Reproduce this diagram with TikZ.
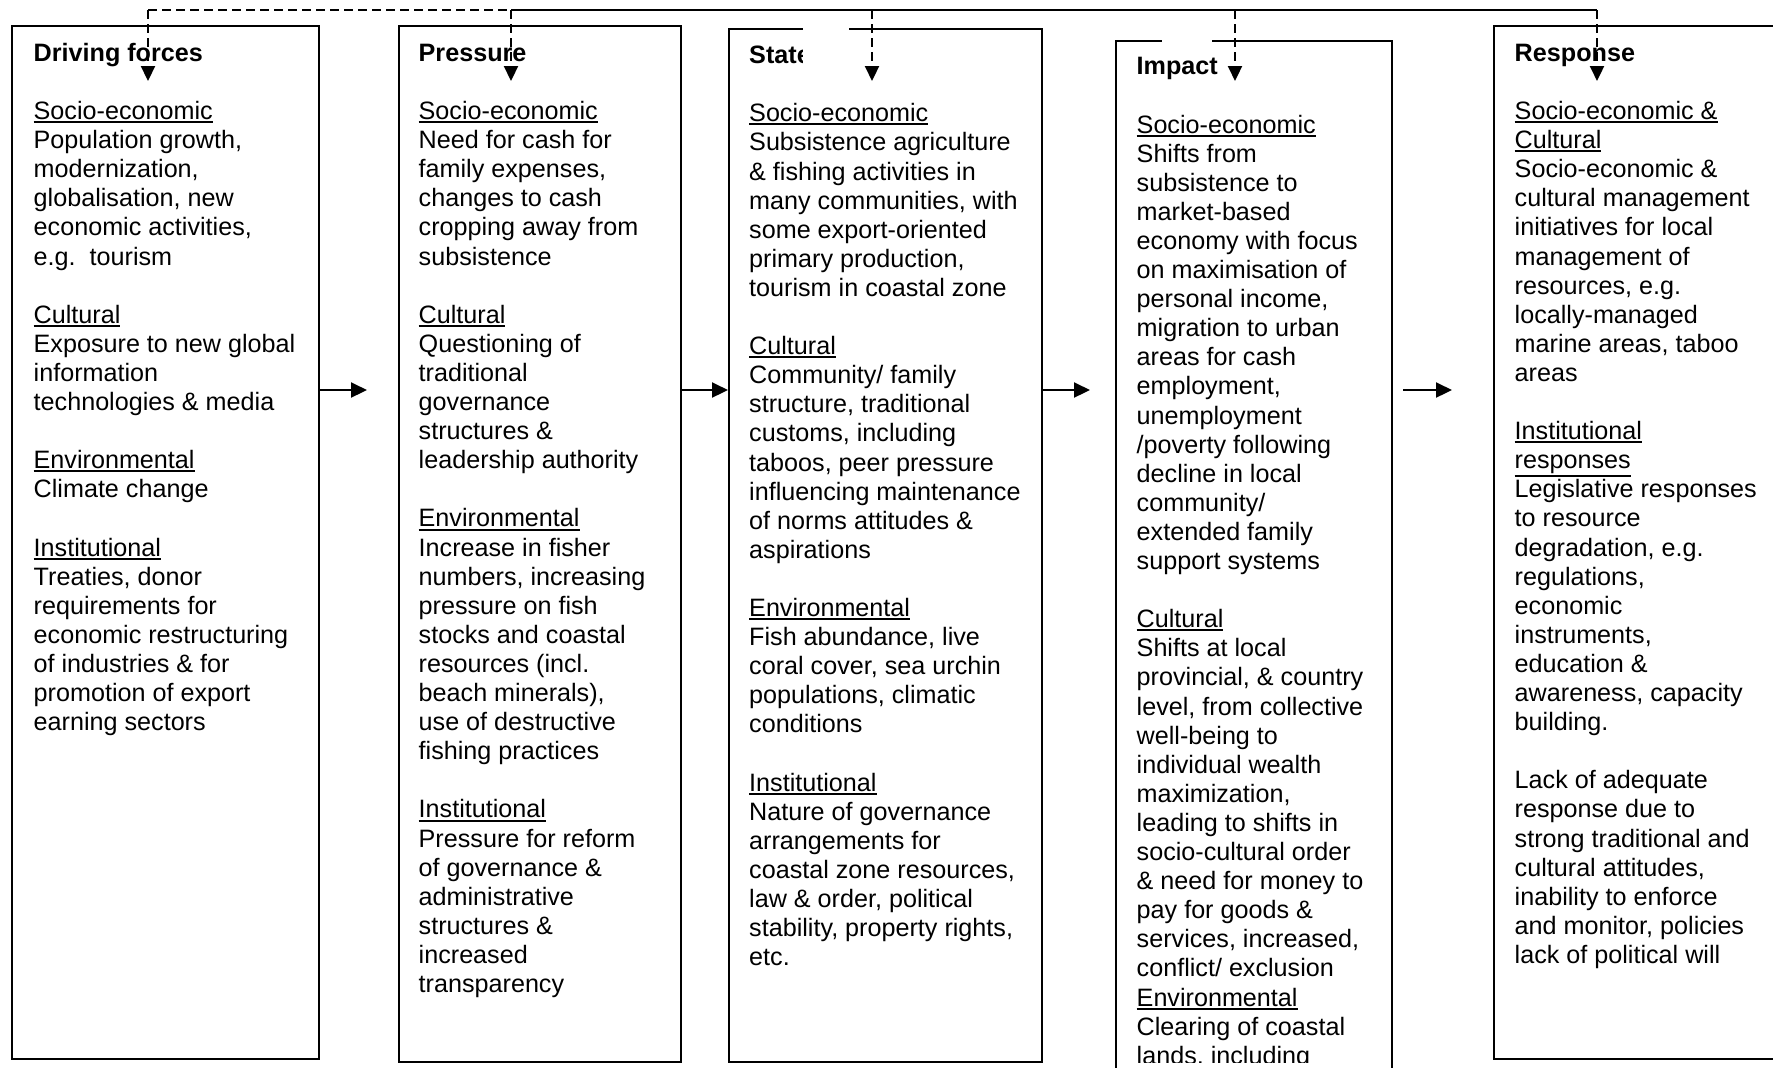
\documentclass[tikz,border=0pt]{standalone}
\usepackage{fontspec}
\setmainfont{Liberation Sans}
\usetikzlibrary{arrows.meta}
\tikzset{
  bx/.style={draw=black,line width=.6pt,inner sep=0pt,anchor=north west},
  txt/.style={font=\fontsize{7.16}{8.28}\selectfont,align=left,inner sep=0pt,anchor=north west},
  msk/.style={fill=white,draw=none},
  lnk/.style={draw=black,line width=.6pt},
  lnkd/.style={lnk,dash pattern=on .9mm off .5mm},
  fb/.style={-{Triangle[length=1.5mm,width=1.4mm]},line width=.6pt,dash pattern=on .9mm off .5mm},
  fw/.style={-{Triangle[length=1.6mm,width=1.5mm]},line width=.6pt},
}
% first line of every column starts with this strut, so the top is fixed
\newcommand{\tp}{\rule{0pt}{6pt}}
% underlined heading, rule just under the letters, no extra depth
\newcommand{\hd}[1]{\smash{\setbox0\hbox{#1}\dimen0=\dp0
  \ifdim\dimen0>0pt \advance\dimen0 by 0.4pt \else \dimen0=0.9pt \fi
  \rlap{\vrule width\wd0 height -\dimen0 depth \dimexpr\dimen0+0.55pt\relax}\box0}}

\begin{document}
\begin{tikzpicture}
\useasboundingbox (0,0) rectangle (17.73,-10.67);
\clip (0,0) rectangle (17.73,-10.67);
% ---------- the five boxes ----------
\node[bx,minimum width=3.07cm,minimum height=10.33cm] (drv) at (0.11,-0.25) {};
\node[bx,minimum width=2.82cm,minimum height=10.36cm] (prs) at (3.98,-0.25) {};
\node[bx,minimum width=3.13cm,minimum height=10.33cm] (sta) at (7.28,-0.28) {};
\node[bx,minimum width=2.76cm,minimum height=10.60cm] (imp) at (11.15,-0.40) {};
\node[bx,minimum width=3.20cm,minimum height=10.33cm] (rsp) at (14.93,-0.25) {};
% ---------- texts (top = baseline + 6pt) ----------
\node[txt] (drvT) at (0.33,-0.395) {\tp\textbf{Driving forces}\\[8.28pt]
  \hd{Socio-economic}\\
  Population growth,\\
  modernization,\\
  globalisation, new\\
  economic activities,\\
  e.g.\ \ tourism\\[8.28pt]
  \hd{Cultural}\\
  Exposure to new global\\
  information\\
  technologies \& media\\[8.28pt]
  \hd{Environmental}\\
  Climate change\\[8.28pt]
  \hd{Institutional}\\
  Treaties, donor\\
  requirements for\\
  economic restructuring\\
  of industries \& for\\
  promotion of export\\
  earning sectors};
\node[txt] (prsT) at (4.18,-0.395) {\tp\textbf{Pressure}\\[8.28pt]
  \hd{Socio-economic}\\
  Need for cash for\\
  family expenses,\\
  changes to cash\\
  cropping away from\\
  subsistence\\[8.28pt]
  \hd{Cultural}\\
  Questioning of\\
  traditional\\
  governance\\
  structures \&\\
  leadership authority\\[8.28pt]
  \hd{Environmental}\\
  Increase in fisher\\
  numbers, increasing\\
  pressure on fish\\
  stocks and coastal\\
  resources (incl.\\
  beach minerals),\\
  use of destructive\\
  fishing practices\\[8.28pt]
  \hd{Institutional}\\
  Pressure for reform\\
  of governance \&\\
  administrative\\
  structures \&\\
  increased\\
  transparency};
\node[txt] (staT) at (7.485,-0.418) {\tp\textbf{State}\\[8.28pt]
  \hd{Socio-economic}\\
  Subsistence agriculture\\
  \& fishing activities in\\
  many communities, with\\
  some export-oriented\\
  primary production,\\
  tourism in coastal zone\\[8.28pt]
  \hd{Cultural}\\
  Community/ family\\
  structure, traditional\\
  customs, including\\
  taboos, peer pressure\\
  influencing maintenance\\
  of norms attitudes \&\\
  aspirations\\[8.28pt]
  \hd{Environmental}\\
  Fish abundance, live\\
  coral cover, sea urchin\\
  populations, climatic\\
  conditions\\[8.28pt]
  \hd{Institutional}\\
  Nature of governance\\
  arrangements for\\
  coastal zone resources,\\
  law \& order, political\\
  stability, property rights,\\
  etc.};
% the impact column runs past the page; its text box stops short
\begin{scope}
\clip (11.15,-0.40) rectangle (13.91,-10.62);
\node[txt] (impT) at (11.36,-0.530) {\tp\textbf{Impact}\\[8.28pt]
  \hd{Socio-economic}\\
  Shifts from\\
  subsistence to\\
  market-based\\
  economy with focus\\
  on maximisation of\\
  personal income,\\
  migration to urban\\
  areas for cash\\
  employment,\\
  unemployment\\
  /poverty following\\
  decline in local\\
  community/\\
  extended family\\
  support systems\\[8.28pt]
  \hd{Cultural}\\
  Shifts at local\\
  provincial, \& country\\
  level, from collective\\
  well-being to\\
  individual wealth\\
  maximization,\\
  leading to shifts in\\
  socio-cultural order\\
  \& need for money to\\
  pay for goods \&\\
  services, increased,\\
  conflict/ exclusion\\
  \hd{Environmental}\\
  Clearing of coastal\\
  lands, including};
\end{scope}
\node[txt] (rspT) at (15.14,-0.395) {\tp\textbf{Response}\\[8.28pt]
  \hd{Socio-economic \&}\\
  \hd{Cultural}\\
  Socio-economic \&\\
  cultural management\\
  initiatives for local\\
  management of\\
  resources, e.g.\\
  locally-managed\\
  marine areas, taboo\\
  areas\\[8.28pt]
  \hd{Institutional}\\
  \hd{responses}\\
  Legislative responses\\
  to resource\\
  degradation, e.g.\\
  regulations,\\
  economic\\
  instruments,\\
  education \&\\
  awareness, capacity\\
  building.\\[8.28pt]
  Lack of adequate\\
  response due to\\
  strong traditional and\\
  cultural attitudes,\\
  inability to enforce\\
  and monitor, policies\\
  lack of political will};
% white patches over the box tops
\fill[msk] (8.03,-0.25) rectangle (8.49,-0.66);
\fill[msk] (11.62,-0.36) rectangle (12.12,-0.44);
% ---------- feedback line along the top ----------
\coordinate (t1) at (1.48,-0.10);
\coordinate (t2) at (5.11,-0.10);
\coordinate (t3) at (8.72,-0.10);
\coordinate (t4) at (12.35,-0.10);
\coordinate (t5) at (15.97,-0.10);
\draw[lnkd] (t1) -- (t2);
\draw[lnk] (t2) -- (t5);
\foreach \t in {t1,t2,t3,t4,t5}
  \draw[fb] (\t) -- ++(0,-0.71);
% ---------- forward arrows ----------
\coordinate (a1) at (3.67,-3.90);
\coordinate (a3) at (10.90,-3.90);
\coordinate (a4s) at (14.03,-3.90);
\coordinate (a4) at (14.52,-3.90);
\draw[fw] (a1 -| drv.east) -- (a1);
\draw[fw] (a1 -| prs.east) -- (a1 -| sta.west);
\draw[fw] (a3 -| sta.east) -- (a3);
\draw[fw] (a4s) -- (a4);
\end{tikzpicture}
\end{document}
